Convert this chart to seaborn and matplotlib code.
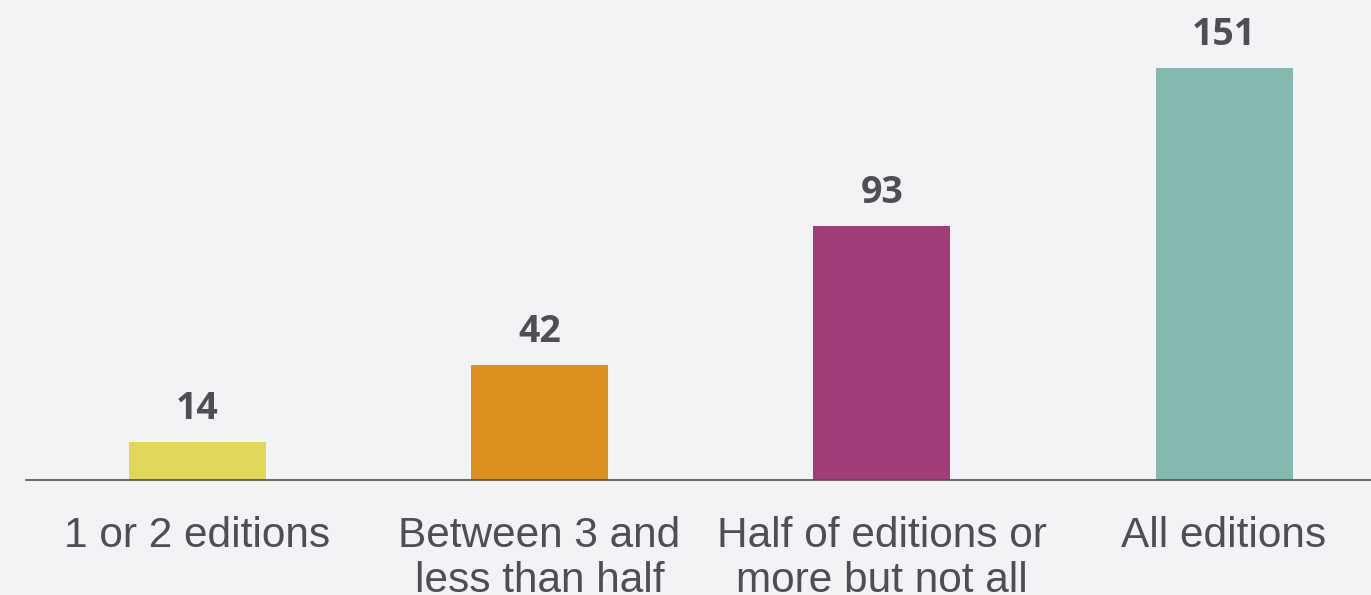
import matplotlib
matplotlib.use('Agg')
import matplotlib.pyplot as plt
import seaborn as sns
import pandas as pd

# data
categories = ['1 or 2 editions', 'Between 3 and\nless than half',
              'Half of editions or\nmore but not all', 'All editions']
counts = [14, 42, 93, 151]
bar_colors = ['#dfd65a', '#db8f1c', '#a03c78', '#82b8ae']

bg = '#f2f3f5'
text_color = '#4e4f53'

sns.set_theme(style='white')
plt.rcParams['font.family'] = ['Liberation Sans', 'DejaVu Sans']

df = pd.DataFrame({'category': categories, 'count': counts})

fig = plt.figure(figsize=(13.71, 5.95), dpi=100)
fig.patch.set_facecolor(bg)
ax = fig.add_axes([26 / 1371, 115 / 595, 1345 / 1371, 480 / 595])
ax.set_facecolor(bg)

sns.barplot(data=df, x='category', y='count', hue='category', palette=bar_colors,
            width=0.4, saturation=1, legend=False, linewidth=0, ax=ax)

# value labels above bars
for i, v in enumerate(counts):
    ax.annotate(str(v), xy=(i, v), xytext=(0, 16.5), textcoords='offset points',
                ha='center', va='baseline', fontsize=27, fontweight='bold',
                color=text_color, family=['Open Sans', 'DejaVu Sans'])

ax.set_xlim(-0.5, -0.5 + 1345 / 342.3)
ax.set_ylim(0, 151 * 480 / 412)
ax.set_xlabel('')
ax.set_ylabel('')
ax.set_yticks([])

for side in ['top', 'right', 'left']:
    ax.spines[side].set_visible(False)
ax.spines['bottom'].set_color('#505050')
ax.spines['bottom'].set_linewidth(1.2)

ax.tick_params(axis='x', length=0, pad=26, labelsize=30.5, labelcolor=text_color)
for lbl in ax.get_xticklabels():
    lbl.set_linespacing(1.16)

plt.savefig('out.png', dpi=100, facecolor=bg)
plt.close()
